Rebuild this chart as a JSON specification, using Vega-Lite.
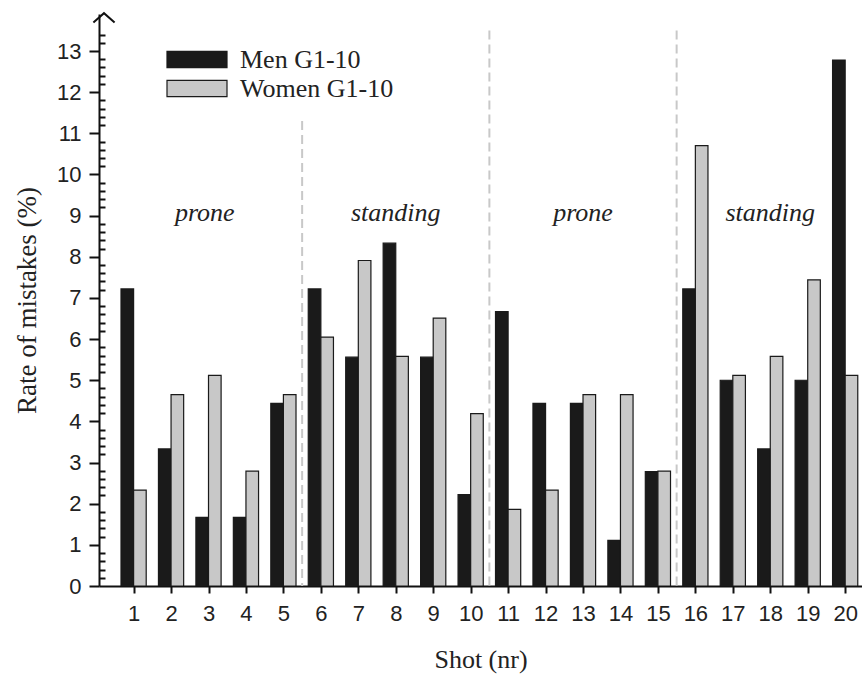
{
  "$schema": "https://vega.github.io/schema/vega-lite/v6.json",
  "width": 763,
  "height": 572,
  "autosize": {"type": "none"},
  "padding": {"left": 99, "top": 14, "right": 0, "bottom": 92},
  "background": "white",
  "config": {
    "view": {"stroke": null},
    "axis": {"grid": false}
  },
  "datasets": {
    "bars": [
      {"shot": 1, "group": "Men G1-10", "rate": 7.22},
      {"shot": 1, "group": "Women G1-10", "rate": 2.33},
      {"shot": 2, "group": "Men G1-10", "rate": 3.33},
      {"shot": 2, "group": "Women G1-10", "rate": 4.65},
      {"shot": 3, "group": "Men G1-10", "rate": 1.67},
      {"shot": 3, "group": "Women G1-10", "rate": 5.12},
      {"shot": 4, "group": "Men G1-10", "rate": 1.67},
      {"shot": 4, "group": "Women G1-10", "rate": 2.79},
      {"shot": 5, "group": "Men G1-10", "rate": 4.44},
      {"shot": 5, "group": "Women G1-10", "rate": 4.65},
      {"shot": 6, "group": "Men G1-10", "rate": 7.22},
      {"shot": 6, "group": "Women G1-10", "rate": 6.05},
      {"shot": 7, "group": "Men G1-10", "rate": 5.56},
      {"shot": 7, "group": "Women G1-10", "rate": 7.91},
      {"shot": 8, "group": "Men G1-10", "rate": 8.33},
      {"shot": 8, "group": "Women G1-10", "rate": 5.58},
      {"shot": 9, "group": "Men G1-10", "rate": 5.56},
      {"shot": 9, "group": "Women G1-10", "rate": 6.51},
      {"shot": 10, "group": "Men G1-10", "rate": 2.22},
      {"shot": 10, "group": "Women G1-10", "rate": 4.19},
      {"shot": 11, "group": "Men G1-10", "rate": 6.67},
      {"shot": 11, "group": "Women G1-10", "rate": 1.86},
      {"shot": 12, "group": "Men G1-10", "rate": 4.44},
      {"shot": 12, "group": "Women G1-10", "rate": 2.33},
      {"shot": 13, "group": "Men G1-10", "rate": 4.44},
      {"shot": 13, "group": "Women G1-10", "rate": 4.65},
      {"shot": 14, "group": "Men G1-10", "rate": 1.11},
      {"shot": 14, "group": "Women G1-10", "rate": 4.65},
      {"shot": 15, "group": "Men G1-10", "rate": 2.78},
      {"shot": 15, "group": "Women G1-10", "rate": 2.79},
      {"shot": 16, "group": "Men G1-10", "rate": 7.22},
      {"shot": 16, "group": "Women G1-10", "rate": 10.70},
      {"shot": 17, "group": "Men G1-10", "rate": 5.0},
      {"shot": 17, "group": "Women G1-10", "rate": 5.12},
      {"shot": 18, "group": "Men G1-10", "rate": 3.33},
      {"shot": 18, "group": "Women G1-10", "rate": 5.58},
      {"shot": 19, "group": "Men G1-10", "rate": 5.0},
      {"shot": 19, "group": "Women G1-10", "rate": 7.44},
      {"shot": 20, "group": "Men G1-10", "rate": 12.78},
      {"shot": 20, "group": "Women G1-10", "rate": 5.12}
    ],
    "dividers": [
      {"shot": 5.5, "rate": 11.3, "base": 0},
      {"shot": 10.5, "rate": 13.5, "base": 0},
      {"shot": 15.5, "rate": 13.5, "base": 0}
    ],
    "phases": [
      {"shot": 2.9, "rate": 9.07, "label": "prone"},
      {"shot": 8, "rate": 9.07, "label": "standing"},
      {"shot": 13, "rate": 9.07, "label": "prone"},
      {"shot": 18, "rate": 9.07, "label": "standing"}
    ],
    "arrow": [
      {"shot": 0.2095, "rate": 13.92}
    ]
  },
  "encoding": {
    "x": {
      "field": "shot",
      "type": "quantitative",
      "scale": {"domain": [0.2095, 20.316], "nice": false, "zero": false},
      "axis": {
        "values": [1,2,3,4,5,6,7,8,9,10,11,12,13,14,15,16,17,18,19,20],
        "title": "Shot (nr)",
        "titleFont": "Liberation Serif",
        "titleFontSize": 26,
        "titleFontWeight": "normal",
        "titleColor": "#222",
        "titlePadding": 22,
        "labelFont": "Liberation Sans",
        "labelFontSize": 22,
        "labelColor": "#222",
        "labelPadding": 10,
        "labelFlush": false,
        "labelOverlap": false,
        "domainColor": "#111",
        "domainWidth": 2,
        "tickColor": "#111",
        "tickWidth": 2,
        "tickSize": 7,
        "grid": false
      }
    }
  },
  "layer": [
    {
      "data": {"name": "dividers"},
      "mark": {"type": "rule", "color": "#c8c8c8", "strokeWidth": 2, "strokeDash": [9, 5]},
      "encoding": {
        "y": {"field": "rate", "type": "quantitative", "scale": {"domain": [0, 13.9], "nice": false}, "axis": null},
        "y2": {"field": "base"}
      }
    },
    {
      "data": {"name": "bars"},
      "transform": [{"filter": "datum.group === 'Men G1-10'"}],
      "mark": {"type": "bar", "width": 12.6, "xOffset": -6.3, "stroke": "#1a1a1a", "strokeWidth": 1.2, "clip": true},
      "encoding": {
        "y": {
          "field": "rate",
          "type": "quantitative",
          "scale": {"domain": [0, 13.9], "nice": false},
          "axis": {
            "orient": "left",
            "values": [0,1,2,3,4,5,6,7,8,9,10,11,12,13],
            "title": "Rate of mistakes (%)",
            "titleFont": "Liberation Serif",
            "titleFontSize": 27,
            "titleFontWeight": "normal",
            "titleColor": "#222",
            "titlePadding": 15,
            "labelFont": "Liberation Sans",
            "labelFontSize": 22,
            "labelColor": "#222",
            "labelPadding": 8,
            "labelFlush": false,
            "labelOverlap": false,
            "domainColor": "#111",
            "domainWidth": 2,
            "tickColor": "#111",
            "tickWidth": 2,
            "tickSize": 10,
            "grid": false
          }
        },
        "color": {
          "field": "group",
          "type": "nominal",
          "scale": {"domain": ["Men G1-10", "Women G1-10"], "range": ["#1a1a1a", "#c8c8c8"]},
          "legend": {
            "title": null,
            "orient": "none",
            "legendX": 82,
            "legendY": 29.5,
            "symbolType": "M-2,-0.54H2V0.54H-2Z",
            "symbolSize": 900,
            "symbolStrokeColor": "#222",
            "symbolStrokeWidth": 1.2,
            "symbolOpacity": 1,
            "labelFont": "Liberation Serif",
            "labelFontSize": 26,
            "labelColor": "#222",
            "labelOffset": 27,
            "rowPadding": 0
          }
        }
      }
    },
    {
      "data": {"name": "bars"},
      "transform": [{"filter": "datum.group === 'Women G1-10'"}],
      "mark": {"type": "bar", "width": 12.6, "xOffset": 6.3, "stroke": "#1a1a1a", "strokeWidth": 1.2, "clip": true},
      "encoding": {
        "y": {"field": "rate", "type": "quantitative", "scale": {"domain": [0, 13.9], "nice": false}, "axis": null},
        "color": {"field": "group", "type": "nominal"}
      }
    },
    {
      "data": {"name": "phases"},
      "mark": {"type": "text", "font": "Liberation Serif", "fontStyle": "italic", "fontSize": 26, "color": "#222", "baseline": "middle", "align": "center"},
      "encoding": {
        "y": {"field": "rate", "type": "quantitative", "scale": {"domain": [0, 13.9], "nice": false}, "axis": null},
        "text": {"field": "label"}
      }
    },
    {
      "data": {"name": "arrow"},
      "mark": {"type": "point", "shape": "M-1,0.875L0,0L1,0.875", "size": 450, "filled": false, "stroke": "#111", "strokeWidth": 2, "opacity": 1, "clip": false},
      "encoding": {
        "y": {
          "field": "rate",
          "type": "quantitative",
          "scale": {"domain": [0, 13.9], "nice": false},
          "axis": {
            "orient": "left",
            "values": [0.2,0.4,0.6,0.8,1.2,1.4,1.6,1.8,2.2,2.4,2.6,2.8,3.2,3.4,3.6,3.8,4.2,4.4,4.6,4.8,5.2,5.4,5.6,5.8,6.2,6.4,6.6,6.8,7.2,7.4,7.6,7.8,8.2,8.4,8.6,8.8,9.2,9.4,9.6,9.8,10.2,10.4,10.6,10.8,11.2,11.4,11.6,11.8,12.2,12.4,12.6,12.8,13.2,13.4],
            "title": null,
            "labels": false,
            "domain": false,
            "tickColor": "#111",
            "tickWidth": 2,
            "tickSize": -6,
            "grid": false
          }
        }
      }
    }
  ],
  "resolve": {"axis": {"y": "independent"}}
}
